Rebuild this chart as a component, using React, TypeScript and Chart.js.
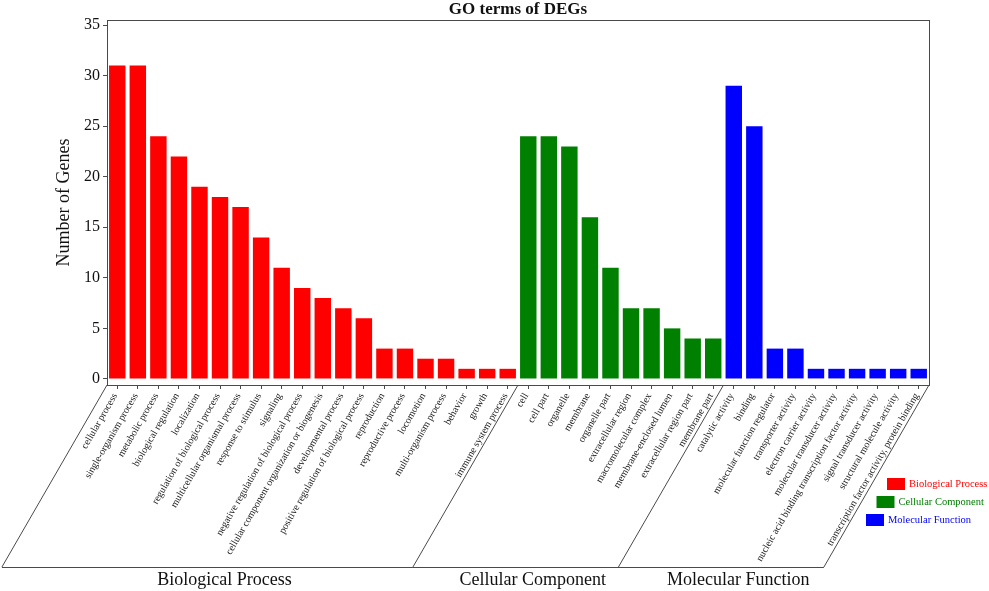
import React, { useEffect, useRef } from 'react';
import { Chart, registerables } from 'chart.js';

Chart.register(...registerables);

const SERIF = '"Liberation Serif", "Times New Roman", serif';

const bpTerms = [
  'cellular process', 'single-organism process', 'metabolic process', 'biological regulation',
  'localization', 'regulation of biological process', 'multicellular organismal process',
  'response to stimulus', 'signaling', 'negative regulation of biological process',
  'cellular component organization or biogenesis', 'developmental process',
  'positive regulation of biological process', 'reproduction', 'reproductive process',
  'locomotion', 'multi-organism process', 'behavior', 'growth', 'immune system process',
];
const bpCounts = [31, 31, 24, 22, 19, 18, 17, 14, 11, 9, 8, 7, 6, 3, 3, 2, 2, 1, 1, 1];

const ccTerms = [
  'cell', 'cell part', 'organelle', 'membrane', 'organelle part', 'extracellular region',
  'macromolecular complex', 'membrane-enclosed lumen', 'extracellular region part', 'membrane part',
];
const ccCounts = [24, 24, 23, 16, 11, 7, 7, 5, 4, 4];

const mfTerms = [
  'catalytic activity', 'binding', 'molecular function regulator', 'transporter activity',
  'electron carrier activity', 'molecular transducer activity',
  'nucleic acid binding transcription factor activity', 'signal transducer activity',
  'structural molecule activity', 'transcription factor activity, protein binding',
];
const mfCounts = [29, 25, 3, 3, 1, 1, 1, 1, 1, 1];

const yTicks = [0, 5, 10, 15, 20, 25, 30, 35];
const groupNames = ['Biological Process', 'Cellular Component', 'Molecular Function'];
const groupColors = ['#ff0000', '#008000', '#0000ff'];

const groups = [bpTerms, ccTerms, mfTerms];
const labels = [...bpTerms, ...ccTerms, ...mfTerms];
const counts = [...bpCounts, ...ccCounts, ...mfCounts];
const barColors = groups.flatMap((g, i) => g.map(() => groupColors[i]));

// frame, slanted group boxes, group names, title, y title and legend
const goDecor = {
  id: 'goDecor',
  afterDraw(chart: any) {
    const { ctx, chartArea: a } = chart;
    const n = labels.length;
    const w = (a.right - a.left) / n;
    const baseY = 567;
    const shift = (baseY - a.bottom) / Math.tan((60 * Math.PI) / 180);

    const line = (x1: number, y1: number, x2: number, y2: number) => {
      ctx.beginPath();
      ctx.moveTo(x1, y1);
      ctx.lineTo(x2, y2);
      ctx.stroke();
    };

    ctx.save();
    ctx.strokeStyle = '#4a4a4a';
    ctx.lineWidth = 1;
    ctx.strokeRect(a.left + 0.5, a.top + 0.5, a.right - a.left, a.bottom - a.top);

    const edges = [0];
    groups.forEach((g) => edges.push(edges[edges.length - 1] + g.length));
    edges.forEach((i) => {
      const ex = a.left + i * w;
      line(ex, a.bottom, ex - shift, baseY);
    });
    line(a.left - shift, baseY + 0.5, a.right - shift, baseY + 0.5);

    ctx.fillStyle = '#111';
    ctx.textAlign = 'center';
    ctx.textBaseline = 'middle';
    ctx.font = `18px ${SERIF}`;
    groupNames.forEach((name, g) => {
      const cx = a.left + ((edges[g] + edges[g + 1]) / 2) * w - shift + 17;
      ctx.fillText(name, cx, 580);
    });

    ctx.font = `bold 17px ${SERIF}`;
    ctx.fillText('GO terms of DEGs', (a.left + a.right) / 2, 10);

    ctx.save();
    ctx.translate(64, (a.top + a.bottom) / 2);
    ctx.rotate(-Math.PI / 2);
    ctx.font = `18px ${SERIF}`;
    ctx.fillText('Number of Genes', 0, 0);
    ctx.restore();

    ctx.font = `10.5px ${SERIF}`;
    ctx.textAlign = 'left';
    groupNames.forEach((name, g) => {
      const rx = 887 - g * 10.5;
      const ry = 478 + g * 18;
      ctx.fillStyle = groupColors[g];
      ctx.fillRect(rx, ry, 18, 12);
      ctx.fillText(name, rx + 22, ry + 6.5);
    });
    ctx.restore();
  },
};

export default function App() {
  const canvasRef = useRef<HTMLCanvasElement>(null);

  useEffect(() => {
    document.body.style.margin = '0';
    if (!canvasRef.current) return;

    const chart = new Chart(canvasRef.current, {
      type: 'bar',
      data: {
        labels,
        datasets: [{
          data: counts,
          backgroundColor: barColors,
          barPercentage: 0.8,
          categoryPercentage: 1,
        }],
      },
      options: {
        animation: false,
        responsive: true,
        maintainAspectRatio: false,
        layout: { padding: { top: 20, right: 60, left: 0, bottom: 0 } },
        plugins: {
          legend: { display: false },
          tooltip: { enabled: false },
        },
        scales: {
          x: {
            offset: true,
            afterFit: (s: any) => { s.height = 206; },
            grid: {
              display: true,
              drawOnChartArea: false,
              offset: false,
              tickLength: 4,
              tickColor: '#4a4a4a',
            },
            border: { display: false },
            ticks: {
              autoSkip: false,
              minRotation: 60,
              maxRotation: 60,
              padding: 2,
              labelOffset: -2,
              color: '#222',
              font: { family: SERIF, size: 10 },
            },
          },
          y: {
            min: -0.6,
            max: 35.5,
            afterFit: (s: any) => { s.width = 107; },
            afterBuildTicks: (s: any) => { s.ticks = yTicks.map((v) => ({ value: v })); },
            grid: {
              display: true,
              drawOnChartArea: false,
              tickLength: 4,
              tickColor: '#4a4a4a',
            },
            border: { display: false },
            ticks: {
              padding: 3,
              color: '#111',
              font: { family: SERIF, size: 16 },
            },
          },
        },
      },
      plugins: [goDecor],
    });

    return () => chart.destroy();
  }, []);

  return (
    <div style={{ width: 989, height: 591, position: 'relative', background: '#fff' }}>
      <canvas ref={canvasRef} />
    </div>
  );
}
